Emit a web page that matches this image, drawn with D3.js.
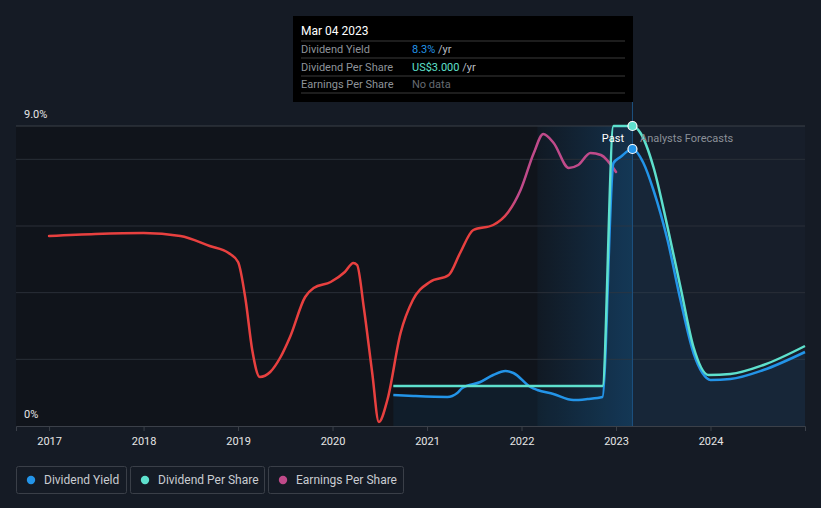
<!DOCTYPE html>
<html>
<head>
<meta charset="utf-8">
<script src="https://cdn.jsdelivr.net/npm/d3@7"></script>
<style>
  body { margin: 0; background: #151b25; font-family: Roboto, "Noto Sans", sans-serif; }
  svg { display: block; }
</style>
</head>
<body>
<div class="chart"></div>
<script>
const width = 821;
const height = 508;

// Dividend yield (%)
const yieldYears = [2020.643, 2020.855, 2021.215, 2021.32, 2021.374, 2021.564, 2021.70, 2021.83, 2021.914,
  2022.094, 2022.168, 2022.337, 2022.549, 2022.697, 2022.856, 2022.973, 2023.047, 2023.174,
  2023.29, 2023.396, 2023.545, 2023.682, 2023.82, 2023.915, 2024.0, 2024.21, 2024.56, 2025.0];
const yieldValues = [0.93, 0.90, 0.87, 0.99, 1.14, 1.32, 1.53, 1.65, 1.59,
  1.17, 1.08, 0.96, 0.78, 0.81, 0.87, 7.89, 8.07, 8.31,
  7.89, 7.08, 5.58, 3.78, 2.19, 1.59, 1.38, 1.41, 1.68, 2.22];

// Dividend per share (US$)
const dpsYears = [2020.643, 2022.856, 2022.973, 2023.174, 2023.259, 2023.396, 2023.545, 2023.682,
  2023.82, 2023.979, 2024.21, 2024.56, 2025.0];
const dpsValues = [0.40, 0.40, 3.0, 3.0, 2.93, 2.59, 1.99, 1.39, 0.79, 0.51, 0.52, 0.61, 0.80];

// Earnings per share (relative units)
const epsYears = [2017.0, 2017.49, 2018.0, 2018.39, 2018.70, 2018.90, 2019.0, 2019.08, 2019.15, 2019.23,
  2019.34, 2019.45, 2019.55, 2019.71, 2019.80, 2019.98, 2020.13, 2020.22, 2020.26, 2020.33,
  2020.42, 2020.49, 2020.58, 2020.72, 2020.85, 2021.03, 2021.23, 2021.35, 2021.49, 2021.70,
  2021.86, 2021.99, 2022.13, 2022.23, 2022.34, 2022.50, 2022.60, 2022.73, 2022.84, 2023.0];
const epsValues = [5.70, 5.76, 5.79, 5.70, 5.40, 5.19, 4.92, 3.78, 2.28, 1.47,
  1.62, 2.07, 2.67, 3.87, 4.14, 4.32, 4.62, 4.89, 4.83, 3.57,
  1.59, 0.12, 0.78, 2.79, 3.78, 4.32, 4.53, 5.19, 5.88, 6.03,
  6.42, 7.08, 8.19, 8.76, 8.49, 7.74, 7.83, 8.19, 8.13, 7.62];

const yearTicks = [2017, 2018, 2019, 2020, 2021, 2022, 2023, 2024];
const gridValues = [2, 4, 6, 8];
const nowYear = 2023.174;
const bandStart = 2022.168;

const legendItems = [
  { name: "Dividend Yield", color: "#2394e8" },
  { name: "Dividend Per Share", color: "#5ee0cd" },
  { name: "Earnings Per Share", color: "#c04a8a" }
];

const x = d3.scaleLinear().domain([2016.65, 2025.0]).range([16, 805]);
const y = d3.scaleLinear().domain([0, 9]).range([426, 126]);
const yDps = d3.scaleLinear().domain([0, 3]).range([426, 126]);

const svg = d3.select(".chart").append("svg")
  .attr("width", width)
  .attr("height", height);

const defs = svg.append("defs");

const band = defs.append("linearGradient").attr("id", "band")
  .attr("x1", "0%").attr("x2", "100%");
band.append("stop").attr("offset", "0%").attr("stop-color", "#2196f3").attr("stop-opacity", 0.04);
band.append("stop").attr("offset", "100%").attr("stop-color", "#2196f3").attr("stop-opacity", 0.22);

const epsGrad = defs.append("linearGradient").attr("id", "epsGrad")
  .attr("gradientUnits", "userSpaceOnUse")
  .attr("x1", x(2021.78)).attr("x2", x(2021.95));
epsGrad.append("stop").attr("offset", "0%").attr("stop-color", "#e8403f");
epsGrad.append("stop").attr("offset", "100%").attr("stop-color", "#c04a8a");

// Regions: past, last year band, forecast
svg.append("rect")
  .attr("x", x.range()[0]).attr("y", y(9))
  .attr("width", x(nowYear) - x.range()[0]).attr("height", y(0) - y(9))
  .attr("fill", "#0c0f14").attr("opacity", 0.55);

svg.append("rect")
  .attr("x", x(bandStart)).attr("y", y(9))
  .attr("width", x(nowYear) - x(bandStart)).attr("height", y(0) - y(9))
  .attr("fill", "url(#band)");

svg.append("rect")
  .attr("x", x(nowYear)).attr("y", y(9))
  .attr("width", x.range()[1] - x(nowYear)).attr("height", y(0) - y(9))
  .attr("fill", "#1a2431").attr("opacity", 0.45);

// Gridlines
svg.append("g").selectAll("line")
  .data(gridValues)
  .enter()
  .append("line")
  .attr("x1", x.range()[0]).attr("x2", x.range()[1])
  .attr("y1", (d) => y(d)).attr("y2", (d) => y(d))
  .attr("stroke", "#2a2f38").attr("stroke-width", 1);

svg.append("line")
  .attr("x1", x.range()[0]).attr("x2", x.range()[1])
  .attr("y1", y(9)).attr("y2", y(9))
  .attr("stroke", "#3b4049").attr("stroke-width", 1);

// Y labels
svg.append("text").attr("x", 24).attr("y", 118)
  .attr("fill", "#e6e6e6").attr("font-size", 11).text("9.0%");
svg.append("text").attr("x", 24).attr("y", 418)
  .attr("fill", "#e6e6e6").attr("font-size", 11).text("0%");

// X axis
const xAxis = d3.axisBottom(x).tickValues(yearTicks).tickFormat(d3.format("d")).tickSize(5).tickPadding(6);
const gx = svg.append("g")
  .attr("transform", `translate(0, ${y(0)})`)
  .call(xAxis);
gx.select(".domain").attr("stroke", "#3b4049");
gx.selectAll(".tick line").attr("stroke", "#3b4049");
gx.selectAll(".tick text")
  .attr("fill", "#e6e6e6")
  .attr("font-size", 11)
  .attr("font-family", "Roboto, sans-serif");

const yieldData = yieldYears.map((d, i) => ({ t: d, v: yieldValues[i] }));
const dpsData = dpsYears.map((d, i) => ({ t: d, v: dpsValues[i] }));
const epsData = epsYears.map((d, i) => ({ t: d, v: epsValues[i] }));

// Area under dividend yield
svg.append("path")
  .datum(yieldData)
  .attr("d", d3.area().x((d) => x(d.t)).y0(y(0)).y1((d) => y(d.v)).curve(d3.curveMonotoneX))
  .attr("fill", "#2196f3").attr("opacity", 0.07);

// Now line
svg.append("line")
  .attr("x1", x(nowYear)).attr("x2", x(nowYear))
  .attr("y1", 101).attr("y2", y(0))
  .attr("stroke", "#1d5180").attr("stroke-width", 1);

// Lines
svg.append("path")
  .datum(epsData)
  .attr("d", d3.line().x((d) => x(d.t)).y((d) => y(d.v)).curve(d3.curveMonotoneX))
  .attr("fill", "none").attr("stroke", "url(#epsGrad)").attr("stroke-width", 2.5)
  .attr("stroke-linecap", "round");

svg.append("path")
  .datum(yieldData)
  .attr("d", d3.line().x((d) => x(d.t)).y((d) => y(d.v)).curve(d3.curveMonotoneX))
  .attr("fill", "none").attr("stroke", "#2394e8").attr("stroke-width", 2.5);

svg.append("path")
  .datum(dpsData)
  .attr("d", d3.line().x((d) => x(d.t)).y((d) => yDps(d.v)).curve(d3.curveMonotoneX))
  .attr("fill", "none").attr("stroke", "#5ee0cd").attr("stroke-width", 2.5);

// Labels
svg.append("text").attr("x", 624).attr("y", 142).attr("text-anchor", "end")
  .attr("fill", "#ffffff").attr("font-size", 11).text("Past");
svg.append("text").attr("x", 640).attr("y", 142)
  .attr("fill", "#8b9098").attr("font-size", 11).text("Analysts Forecasts");

// Markers
svg.append("circle").attr("cx", x(nowYear)).attr("cy", yDps(3.0)).attr("r", 4.5)
  .attr("fill", "#5ee0cd").attr("stroke", "#fff").attr("stroke-width", 1.2);
svg.append("circle").attr("cx", x(nowYear)).attr("cy", y(8.31)).attr("r", 4.5)
  .attr("fill", "#2394e8").attr("stroke", "#fff").attr("stroke-width", 1.2);

// Tooltip
const tip = svg.append("g").attr("transform", "translate(293, 16)");
tip.append("rect").attr("width", 340).attr("height", 86).attr("fill", "#000");
tip.append("text").attr("x", 8).attr("y", 19).attr("fill", "#fff").attr("font-size", 12)
  .text("Mar 04 2023");
[25, 42, 60, 77].forEach((ly) => {
  tip.append("line").attr("x1", 8).attr("x2", 332).attr("y1", ly).attr("y2", ly)
    .attr("stroke", "#3a3a3a").attr("stroke-width", 1);
});
const rows = [
  { label: "Dividend Yield", value: "8.3%", unit: " /yr", color: "#2394e8" },
  { label: "Dividend Per Share", value: "US$3.000", unit: " /yr", color: "#5ee0cd" },
  { label: "Earnings Per Share", value: "No data", unit: "", color: "#666b72" }
];
rows.forEach((r, i) => {
  const ty = 37 + i * 17.5;
  tip.append("text").attr("x", 8).attr("y", ty).attr("fill", "#8e9399").attr("font-size", 11).text(r.label);
  const t = tip.append("text").attr("x", 119).attr("y", ty).attr("font-size", 11);
  t.append("tspan").attr("fill", r.color).text(r.value);
  t.append("tspan").attr("fill", "#b8bcc2").text(r.unit);
});

// Legend
const legendX = [16, 130, 268];
const legendW = [110, 134, 135];
const legend = svg.append("g").selectAll("g")
  .data(legendItems)
  .enter()
  .append("g")
  .attr("transform", (d, i) => `translate(${legendX[i]}, 466)`);
legend.append("rect")
  .attr("x", 0.5).attr("y", 0.5)
  .attr("width", (d, i) => legendW[i]).attr("height", 27)
  .attr("rx", 2)
  .attr("fill", "none").attr("stroke", "#3a3f48");
legend.append("circle").attr("cx", 15).attr("cy", 14).attr("r", 4.2).attr("fill", (d) => d.color);
legend.append("text").attr("x", 28).attr("y", 18)
  .attr("fill", "#c9ccd1").attr("font-size", 12)
  .text((d) => d.name);
</script>
</body>
</html>
